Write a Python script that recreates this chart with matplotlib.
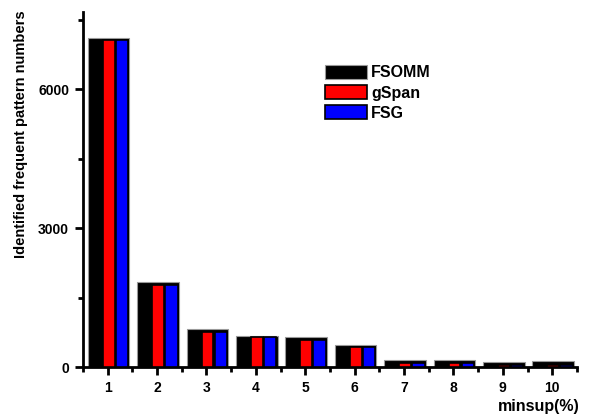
import numpy as np
import matplotlib
matplotlib.use('Agg')
import matplotlib.pyplot as plt
from matplotlib.ticker import MultipleLocator

plt.rcParams['font.family'] = ['Liberation Sans', 'DejaVu Sans']
plt.rcParams['font.weight'] = 'bold'

# pattern counts per minimum support level
minsup = [1, 2, 3, 4, 5, 6, 7, 8, 9, 10]
fsomm = [7100, 1840, 820, 675, 640, 468, 150, 150, 115, 120]
gspan = [7050, 1780, 755, 645, 585, 438, 86, 86, 50, 50]
fsg = [7050, 1780, 755, 645, 585, 438, 86, 86, 50, 50]

fig = plt.figure(figsize=(6.01, 4.18), dpi=100)
ax = fig.add_axes([0.138, 0.122, 0.822, 0.850])

x = np.array(minsup)
ax.bar(x + 0.02, fsomm, width=0.84, color='black', edgecolor='#999999',
       linewidth=0.8, label='FSOMM', zorder=2)
ax.bar(x + 0.02, gspan, width=0.24, color='red', edgecolor='black',
       linewidth=1.2, label='gSpan', zorder=3)
ax.bar(x + 0.29, fsg, width=0.25, color='blue', edgecolor='black',
       linewidth=1.2, label='FSG', zorder=3)

ax.set_xlim(0.5, 10.5)
ax.set_ylim(0, 7670)
ax.set_xticks(minsup)
ax.set_xticks(np.arange(0.5, 11, 1), minor=True)
ax.set_yticks([0, 3000, 6000])
ax.yaxis.set_minor_locator(MultipleLocator(1500))

for side in ['top', 'right']:
    ax.spines[side].set_visible(False)
for side in ['left', 'bottom']:
    ax.spines[side].set_linewidth(2)

ax.tick_params(axis='both', which='major', direction='out', length=6,
               width=2, labelsize=10, pad=4)
ax.tick_params(axis='both', which='minor', direction='out', length=3.5,
               width=2)

fig.text(0.035, 0.68, 'Identified frequent pattern numbers', rotation=90,
         ha='center', va='center', fontsize=10.5, fontweight='bold')
fig.text(0.897, 0.027, 'minsup(%)', ha='center', va='center',
         fontsize=11.5, fontweight='bold')

ax.legend(loc='upper left', bbox_to_anchor=(0.49, 0.85), frameon=False,
          fontsize=11.5, handlelength=2.6, handleheight=0.95,
          handletextpad=0.3, labelspacing=0.3, borderpad=0, borderaxespad=0)

fig.savefig('out.png', dpi=100)
